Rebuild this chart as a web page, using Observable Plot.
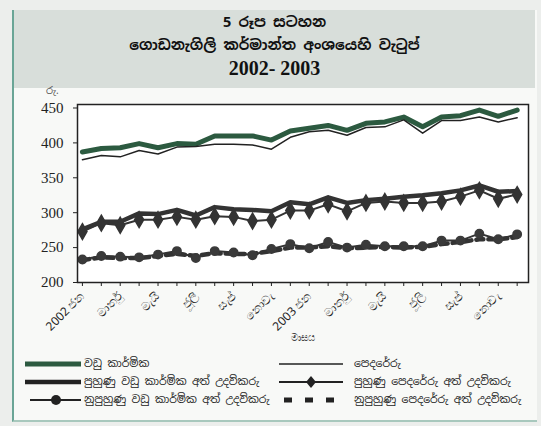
<!DOCTYPE html>
<html><head><meta charset="utf-8">
<script src="https://cdn.jsdelivr.net/npm/d3@7"></script>
<script src="https://cdn.jsdelivr.net/npm/@observablehq/plot@0.6"></script>
<style>
body{margin:0;background:#eceeec;}
#wrap{position:relative;width:541px;height:426px;overflow:hidden;font-family:"Noto Sans Sinhala","Noto Sans",sans-serif;color:#222;}
#box{position:absolute;left:12px;top:10px;width:523px;height:410px;border-left:2px solid #6aa596;border-bottom:2px solid #a8c8bd;background:#f8f9f7;}
#band{position:absolute;left:14px;top:10px;width:521px;height:78px;background:#d8deda;}
.t{position:absolute;left:14px;width:521px;text-align:center;font-weight:bold;color:#111;white-space:nowrap;}
#chart{position:absolute;left:0;top:88px;}
.lg{position:absolute;font-size:10.8px;white-space:nowrap;line-height:14px;}
.ls{position:absolute;}
</style></head>
<body>
<div id="wrap">
  <div id="box"></div>
  <div id="band"></div>
  <div class="t" style="top:12px;font-size:14.5px;">5 රූප සටහන</div>
  <div class="t" style="top:35px;font-size:14.5px;">ගොඩනැගිලි කර්මාන්ත අංශයෙහි වැටුප්</div>
  <div class="t" style="top:57px;font-size:20px;font-family:'Liberation Serif',serif;">2002- 2003</div>
  <div style="position:absolute;left:46px;top:84px;font-size:10px;color:#555;">රු.</div>
  <div id="chart"></div>
  <div id="legend"></div>
</div>
<script>
// Month tick labels (Jan 2002 - Dec 2003)
const months = ["2002 ජන","පෙබ","මාර්තු","අප්‍රේල්","මැයි","ජූනි","ජූලි","අගෝ","සැප්","ඔක්","නොවැ","දෙසැ",
                "2003 ජන","පෙබ","මාර්තු","අප්‍රේල්","මැයි","ජූනි","ජූලි","අගෝ","සැප්","ඔක්","නොවැ","දෙසැ"];
const yTicks = [200, 250, 300, 350, 400, 450];

// Series (Rs. per day)
const carpenter            = [387,392,393,399,393,399,398,410,410,410,404,417,421,425,418,428,430,437,423,437,439,447,438,447];
const mason                = [376,382,380,389,384,394,395,398,398,397,391,408,416,418,411,422,423,433,414,432,432,437,430,436];
const skilledCarpHelper    = [276,287,287,299,298,304,296,308,305,304,302,315,312,322,314,318,320,323,325,328,332,339,330,331];
const skilledMasonHelper   = [273,285,282,290,290,294,290,295,294,288,290,303,303,312,302,314,316,314,314,316,323,332,320,326];
const unskilledCarpHelper  = [233,238,237,236,240,245,235,245,243,239,248,255,249,258,250,254,252,252,252,260,260,270,262,269];
const unskilledMasonHelper = [232,236,235,235,238,241,238,242,241,241,245,250,250,252,249,250,251,250,251,255,258,262,262,265];

const names = ["වඩු කාර්මික","පෙදරේරු","පුහුණු වඩු කාර්මික අත් උදව්කරු","පුහුණු පෙදරේරු අත් උදව්කරු",
               "නුපුහුණු වඩු කාර්මික අත් උදව්කරු","නුපුහුණු පෙදරේරු අත් උදව්කරු"];

const dark = "#333";
const green = "#2c5a40";

const chart = Plot.plot({
  width: 541, height: 265,
  marginLeft: 77, marginRight: 13, marginTop: 16, marginBottom: 71,
  x: {domain: [-0.26, 23.6]},
  y: {domain: [200, 455]},
  style: {background: "transparent", overflow: "visible", color: "#222"},
  marks: [
    Plot.rect([0], {x1: -0.26, x2: 23.6, y1: 200, y2: 455, fill: "white"}),
    Plot.lineY(unskilledMasonHelper, {stroke: dark, strokeWidth: 4.5, strokeDasharray: "7,5"}),
    Plot.lineY(unskilledCarpHelper, {stroke: dark, strokeWidth: 2}),
    Plot.dot(unskilledCarpHelper, {x: (d, i) => i, y: d => d, r: 4.2, fill: "#3a3a3a", stroke: "#3a3a3a"}),
    Plot.lineY(skilledCarpHelper, {stroke: dark, strokeWidth: 4.5}),
    Plot.lineY(skilledMasonHelper, {stroke: dark, strokeWidth: 2}),
    Plot.dot(skilledMasonHelper, {x: (d, i) => i, y: d => d, symbol: "diamond", r: 4.8, fill: dark, stroke: dark}),
    Plot.lineY(carpenter, {stroke: green, strokeWidth: 5}),
    Plot.lineY(mason, {stroke: "#222", strokeWidth: 1.5}),
    Plot.frame({stroke: "#222", strokeWidth: 1.5}),
    Plot.axisY({ticks: yTicks, tickSize: 4, tickPadding: 10, fontSize: 15, fontFamily: "Liberation Serif, serif", label: null}),
    Plot.axisX({ticks: d3.range(24), tickFormat: i => (i % 2 === 0 ? months[i] : ""), tickRotate: -45,
                tickSize: 4, fontSize: 12, label: null}),
    Plot.text(["මාසය"], {frameAnchor: "bottom", dy: 58, fontSize: 10, fill: "#444"})
  ]
});
document.getElementById("chart").appendChild(chart);

// Legend
const legend = document.getElementById("legend");
const items = [
  {name: names[0], col: 0, row: 0, type: "green"},
  {name: names[1], col: 1, row: 0, type: "thin"},
  {name: names[2], col: 0, row: 1, type: "thick"},
  {name: names[3], col: 1, row: 1, type: "diamond"},
  {name: names[4], col: 0, row: 2, type: "circle"},
  {name: names[5], col: 1, row: 2, type: "dash"}
];
const rowsY = [364, 382, 400];
const symX = [[25, 81], [279, 343]];
const txtX = [84, 354];
items.forEach(it => {
  const y = rowsY[it.row];
  const [x0, x1] = symX[it.col];
  const svg = d3.create("svg").attr("class", "ls").attr("width", x1 - x0 + 4).attr("height", 14)
    .style("left", (x0 - 2) + "px").style("top", (y - 7) + "px");
  const g = svg.append("g").attr("transform", "translate(2,7)");
  const w = x1 - x0;
  if (it.type === "green") g.append("line").attr("x2", w).attr("stroke", green).attr("stroke-width", 5);
  if (it.type === "thin") g.append("line").attr("x2", w).attr("stroke", "#222").attr("stroke-width", 1.5);
  if (it.type === "thick") g.append("line").attr("x2", w).attr("stroke", "#222").attr("stroke-width", 4.5);
  if (it.type === "diamond") {
    g.append("line").attr("x2", w).attr("stroke", "#222").attr("stroke-width", 2);
    g.append("path").attr("d", "M0,-6L5,0L0,6L-5,0Z").attr("transform", `translate(${w/2},0)`).attr("fill", "#222");
  }
  if (it.type === "circle") {
    g.append("line").attr("x1", 5).attr("x2", w).attr("stroke", "#222").attr("stroke-width", 2);
    g.append("circle").attr("cx", w/2 + 3).attr("r", 5).attr("fill", "#222");
  }
  if (it.type === "dash") g.append("line").attr("x1", 5).attr("x2", w).attr("stroke", "#222").attr("stroke-width", 5).attr("stroke-dasharray", "8,13");
  legend.appendChild(svg.node());
  const t = document.createElement("div");
  t.className = "lg";
  t.style.left = txtX[it.col] + "px";
  t.style.top = (y - 8) + "px";
  t.textContent = it.name;
  legend.appendChild(t);
});
</script>
</body></html>
